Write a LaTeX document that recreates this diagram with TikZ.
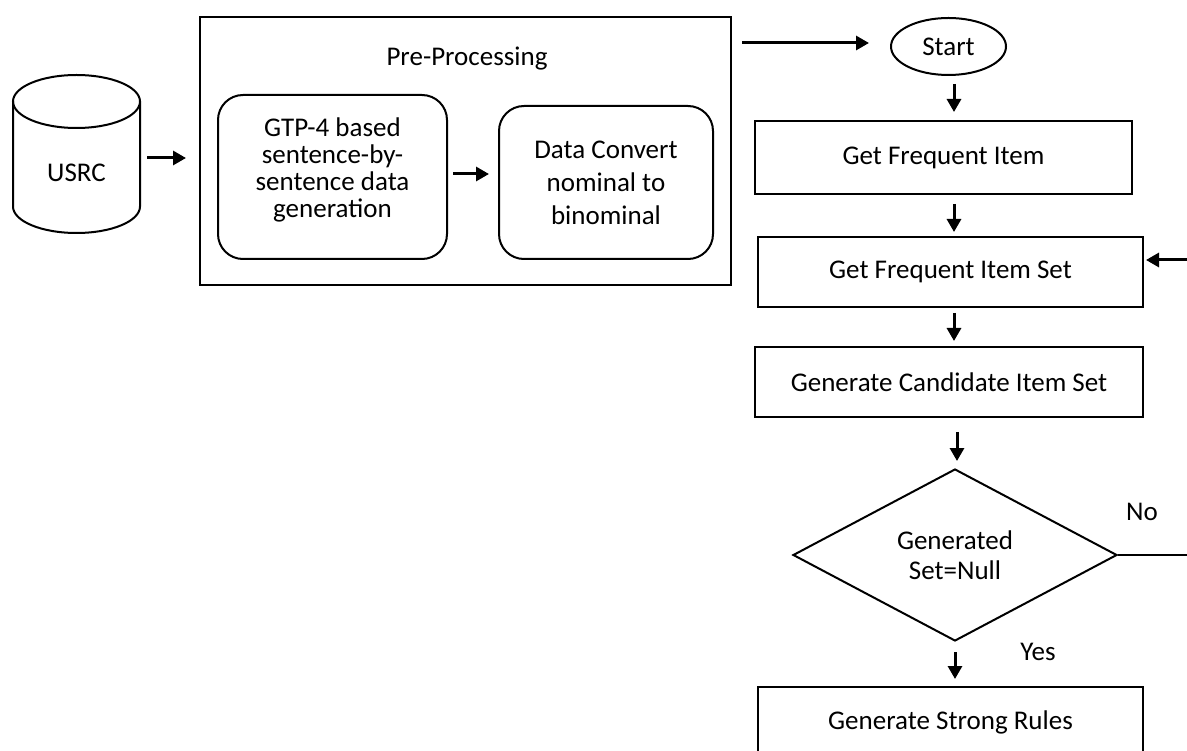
\documentclass[tikz,border=0pt]{standalone}
\usepackage{fontspec}
\setmainfont{Carlito}
\usetikzlibrary{arrows.meta,shapes.geometric}

\tikzset{
  box/.style={draw=black, line width=2pt, minimum width=#1, minimum height=70pt, inner sep=2pt},
  rbox/.style={draw=black, line width=2pt, rounded corners=25pt, align=center, inner sep=2pt},
  arr/.style={line width=3pt, -{Triangle[length=13pt,width=14pt]}},
  txt/.style={font=\fontsize{27}{30}\selectfont}
}

\begin{document}
\begin{tikzpicture}[x=1pt, y=-1pt, txt]
  \useasboundingbox (0,0) rectangle (1187,751);

  \node[minimum width=127pt, minimum height=158pt, inner sep=0pt] (usrc) at (76.5,154) {};
  \draw[line width=2pt] (13,101.5) -- (13,206.5) arc[start angle=180, end angle=360, x radius=63.5pt, y radius=26.5pt] -- (140,101.5);
  \draw[line width=2pt] (76.5,101.5) ellipse [x radius=63.5pt, y radius=26.5pt];
  \node (usrclabel) at (76.5,173) {USRC};

  \node[draw, line width=2pt, minimum width=531pt, minimum height=268pt, inner sep=0pt] (pre) at (465.5,151) {};
  \node (pretitle) at (467,59) {Pre-Processing};
  \node[rbox, minimum width=229pt, minimum height=164pt, font=\fontsize{27}{27}\selectfont] (gen) at (332.5,177)
       {GTP-4 based\\sentence-by-\\sentence data\\generation\\[-8pt]};
  \node[rbox, minimum width=214pt, minimum height=153pt, font=\fontsize{27}{33}\selectfont] (conv) at (606,182.5)
       {Data Convert\\nominal to\\binominal};

  \node[draw, line width=2pt, ellipse, minimum width=115pt, minimum height=57pt, inner sep=0pt] (start) at (948.5,46.5) {Start};
  \node[box=377pt, minimum height=73pt] (item) at (943.5,157.5) {Get Frequent Item};
  \node[box=385pt] (itemset) at (950.5,272) {Get Frequent Item Set};
  \node[box=388pt] (cand) at (949,382) {Generate Candidate Item Set};
  \node[draw, line width=2pt, diamond, minimum width=324pt, minimum height=172pt, inner sep=0pt, align=center] (cond) at (955,555)
       {Generated\\Set=Null};
  \node[box=385pt] (rules) at (950.5,722) {Generate Strong Rules};

  \node (no) at (1142,512) {No};
  \node (yes) at (1038,652) {Yes};

  \coordinate (back) at (1187,260);
  \coordinate (noend) at (1187,555);

  \draw[arr, shorten <=7pt, shorten >=13pt] (usrc.east |- 0,158) -- (pre.west |- 0,158);
  \draw[arr, shorten <=5pt, shorten >=9pt] (gen.east |- 0,174) -- (conv.west |- 0,174);
  \draw[arr, shorten <=10pt, shorten >=21pt] (pre.east |- 0,43) -- (start.west |- 0,43);

  \draw[arr, shorten <=8pt, shorten >=8pt] (start.south -| 954,0) -- (item.north -| 954,0);
  \draw[arr, shorten <=9pt, shorten >=4pt] (item.south -| 954,0) -- (itemset.north -| 954,0);
  \draw[arr, shorten <=5pt, shorten >=5pt] (itemset.south -| 954,0) -- (cand.north -| 954,0);
  \draw[arr, shorten <=14pt, shorten >=7pt] (cand.south -| 957,0) -- (cond.north -| 957,0);
  \draw[arr, shorten <=10pt, shorten >=7pt] (cond.south -| 955,0) -- (rules.north -| 955,0);

  \draw[line width=2pt] (cond.east) -- (noend);
  \draw[arr, shorten >=2pt] (back) -- (back -| itemset.east);
\end{tikzpicture}
\end{document}
